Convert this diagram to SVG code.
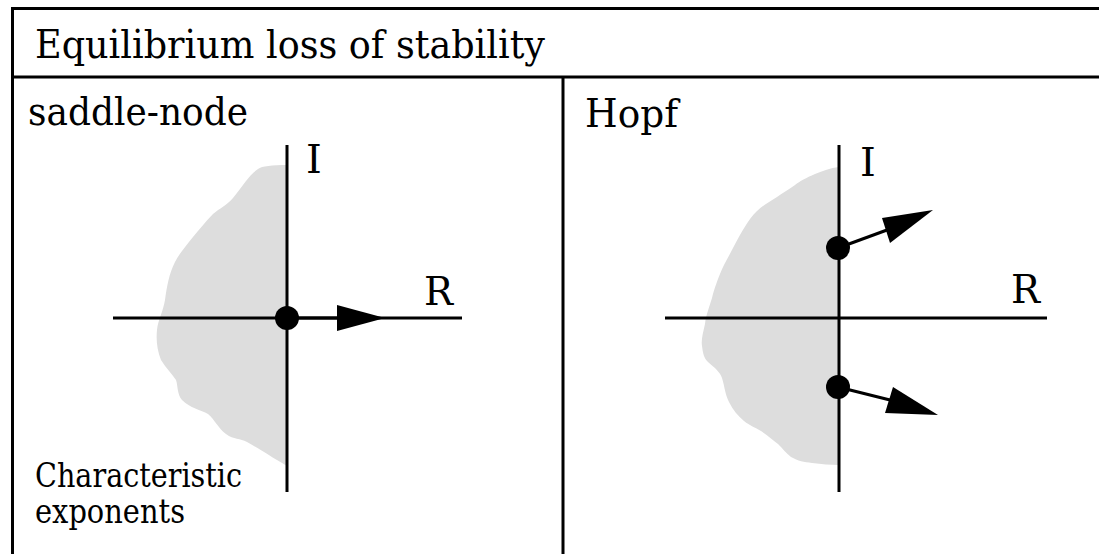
<svg xmlns="http://www.w3.org/2000/svg" width="1099" height="554" viewBox="0 0 1099 554">
<style>
.frame{stroke:#000;stroke-width:3;fill:none}
.axis{stroke:#000;stroke-width:3;fill:none}
.blob{fill:#dddddd;stroke:none}
text{font-family:'DejaVu Serif',serif;fill:#000}
.h{font-size:39px}
.lab{font-size:40px}
.small{font-size:33px}
.dot{fill:#000}
.head{fill:#000}
</style>
<rect width="1099" height="554" fill="#fff"/>
<g id="frame">
<line class="frame" x1="11" y1="8.5" x2="1099" y2="8.5"/>
<line class="frame" x1="12.5" y1="7" x2="12.5" y2="554"/>
<line class="frame" x1="11" y1="77" x2="1099" y2="77"/>
<line class="frame" x1="563" y1="77" x2="563" y2="554"/>
</g>
<g id="title"><text class="h" x="35" y="58" textLength="510" lengthAdjust="spacingAndGlyphs">Equilibrium loss of stability</text></g>
<g id="saddle-node">
<text class="h" x="28" y="125" textLength="220" lengthAdjust="spacingAndGlyphs">saddle-node</text>
<path class="blob" d="M287,165 C272,165 262,166 258,169 C250,174 244,184 233,198 C226,206 220,208 213,214 C205,222 199,230 193,237 C185,247 179,254 175,262 C169,274 167,286 165,300 C163,312 158,320 157,330 C156,340 157,350 161,360 C166,368 172,374 176,380 C178,386 177,394 182,400 C190,408 201,410 208,414 C215,420 218,428 226,434 C234,440 240,438 247,442 C258,448 270,456 287,466 Z"/>
<line class="axis" x1="287" y1="145" x2="287" y2="492"/>
<line class="axis" x1="113" y1="318" x2="462" y2="318"/>
<text class="lab" x="306" y="173">I</text>
<text class="lab" x="424" y="305" textLength="29" lengthAdjust="spacingAndGlyphs">R</text>
<circle class="dot" cx="287" cy="318" r="12"/>
<polygon class="head" points="337,305 385,318 337,331"/>
<text class="small" x="35" y="487" textLength="207" lengthAdjust="spacingAndGlyphs">Characteristic</text>
<text class="small" x="35" y="523" textLength="150" lengthAdjust="spacingAndGlyphs">exponents</text>
</g>
<g id="hopf">
<text class="lab" x="585" y="127" textLength="93" lengthAdjust="spacingAndGlyphs">Hopf</text>
<path class="blob" d="M839,167 C830,168 823,171 815,174 C806,178 800,181 795,185 C788,190 782,193 777,197 C768,203 762,206 757,211 C752,216 749,220 746,225 C741,233 737,240 733,248 C728,258 723,266 720,274 C716,284 714,290 712,298 C709,308 706,315 705,324 C703,333 701,340 702,346 C703,354 704,358 708,362 C715,368 720,372 722,378 C725,388 725,394 729,402 C733,410 738,416 744,421 C750,426 755,427 761,431 C768,436 773,440 778,444 C783,449 786,453 791,457 C798,461 804,462 812,463 C822,464 830,465 839,465 Z"/>
<line class="axis" x1="839" y1="145" x2="839" y2="492"/>
<line class="axis" x1="665" y1="318" x2="1047" y2="318"/>
<text class="lab" x="860" y="176">I</text>
<text class="lab" x="1011" y="303" textLength="29" lengthAdjust="spacingAndGlyphs">R</text>
</g>
<g id="connectors">
<line class="axis" x1="287" y1="318" x2="340" y2="318"/>
<line class="axis" x1="838" y1="248" x2="887" y2="230"/>
<polygon class="head" points="882,218 933,210 890,243"/>
<line class="axis" x1="838" y1="387" x2="890" y2="400"/>
<polygon class="head" points="893,387 938,415 885,413"/>
<circle class="dot" cx="838" cy="248" r="12"/>
<circle class="dot" cx="838" cy="387" r="12"/>
</g>
</svg>
